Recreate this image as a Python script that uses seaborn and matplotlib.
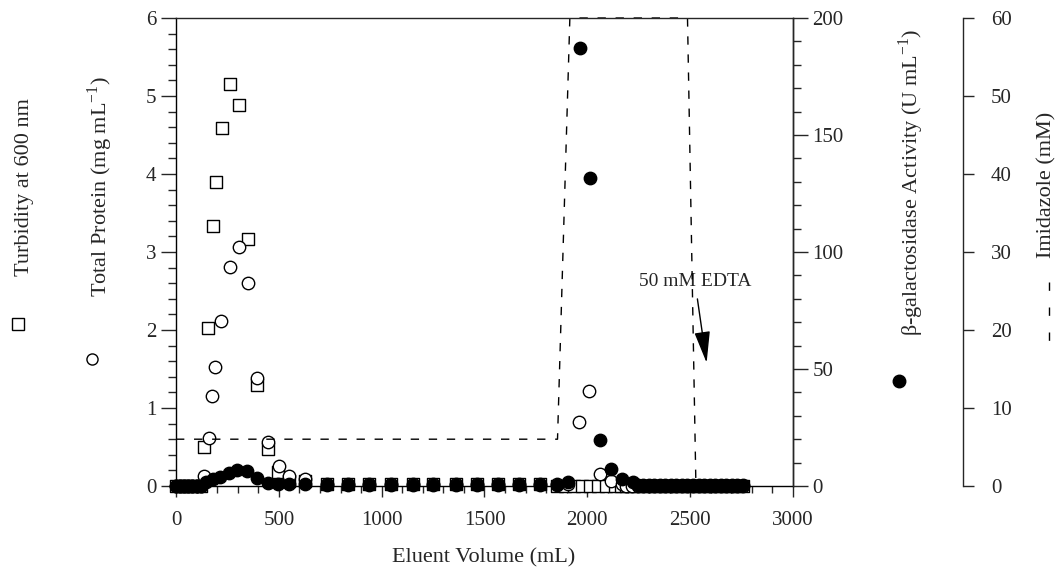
import numpy as np
import matplotlib
matplotlib.use('Agg')
import matplotlib.pyplot as plt
from matplotlib.lines import Line2D
from matplotlib.ticker import MultipleLocator
import seaborn as sns

sns.set_style('ticks')
plt.rcParams['font.family'] = ['Liberation Serif', 'DejaVu Serif']
plt.rcParams['mathtext.fontset'] = 'custom'
plt.rcParams['mathtext.rm'] = 'Liberation Serif'

## data
# turbidity (open squares, left axis)
turb_x = [0, 20, 40, 60, 80, 100, 120, 136, 157, 180, 193, 222, 262, 305, 348, 394, 446, 496, 551, 627,
          733, 836, 939, 1045, 1152, 1250, 1360, 1463, 1566, 1668, 1770,
          1853, 1893, 1933, 1973, 2013, 2053, 2093, 2133, 2163,
          2190, 2217, 2244, 2271, 2298, 2325, 2352, 2379, 2406, 2433, 2460, 2487, 2514, 2541,
          2568, 2595, 2622, 2649, 2676, 2703, 2730, 2757]
turb_y = [0, 0, 0, 0, 0, 0, 0, 0.50, 2.03, 3.33, 3.90, 4.59, 5.15, 4.88, 3.17, 1.29, 0.47, 0.18, 0.06, 0.07,
          0.02, 0.02, 0.02, 0.02, 0.02, 0.02, 0.02, 0.02, 0.02, 0.02, 0.02,
          0, 0, 0, 0, 0, 0, 0, 0, 0,
          0, 0, 0, 0, 0, 0, 0, 0, 0, 0, 0, 0, 0, 0,
          0, 0, 0, 0, 0, 0, 0, 0]

# total protein (open circles, left axis)
prot_x = [0, 20, 40, 60, 80, 100, 120, 136, 161, 177, 190, 217, 261, 305, 348, 392, 449, 501, 551, 627,
          733, 836, 939, 1045, 1152, 1250, 1360, 1463, 1566, 1668, 1770,
          1853, 1907, 1958, 2010, 2061, 2113, 2167,
          2190, 2217, 2244, 2271, 2298, 2325, 2352, 2379, 2406, 2433, 2460, 2487, 2514, 2541,
          2568, 2595, 2622, 2649, 2676, 2703, 2730, 2757]
prot_y = [0, 0, 0, 0, 0, 0, 0, 0.13, 0.61, 1.15, 1.53, 2.11, 2.81, 3.06, 2.60, 1.39, 0.57, 0.26, 0.13, 0.09,
          0.02, 0.02, 0.02, 0.02, 0.02, 0.02, 0.02, 0.02, 0.02, 0.02, 0.02,
          0.02, 0.02, 0.82, 1.22, 0.16, 0.07, 0.03,
          0, 0, 0, 0, 0, 0, 0, 0, 0, 0, 0, 0, 0, 0,
          0, 0, 0, 0, 0, 0, 0, 0]

# beta-galactosidase activity (filled circles, U/mL, right axis)
bgal_x = [0, 20, 40, 60, 80, 100, 120, 146, 178, 214, 259, 298, 344, 392, 448, 497, 551, 627,
          733, 836, 939, 1045, 1152, 1250, 1360, 1463, 1566, 1668, 1770,
          1853, 1907, 1964, 2014, 2061, 2113, 2167, 2220,
          2244, 2271, 2298, 2325, 2352, 2379, 2406, 2433, 2460, 2487, 2514, 2541,
          2568, 2595, 2622, 2649, 2676, 2703, 2730, 2757]
bgal_y = [0, 0, 0, 0, 0, 0, 0, 1.8, 3.0, 4.0, 5.4, 6.8, 6.5, 3.3, 1.2, 0.9, 0.7, 0.7,
          0.5, 0.5, 0.5, 0.5, 0.5, 0.5, 0.5, 0.5, 0.5, 0.5, 0.5,
          0.5, 1.8, 187, 131.5, 19.7, 7.1, 3.0, 1.8,
          0.5, 0.5, 0.5, 0.5, 0.5, 0.5, 0.5, 0.5, 0.5, 0.5, 0.5, 0.5,
          0.5, 0.5, 0.5, 0.5, 0.5, 0.5, 0.5, 0.5]

# imidazole step profile (mM)
imid_x = [0, 1855, 1915, 2487, 2528]
imid_y = [6, 6, 60, 60, 0]

W, H = 1056, 571
fig = plt.figure(figsize=(W / 100, H / 100), dpi=100)
ax = fig.add_axes([176 / W, 1 - 486 / H, (793 - 176) / W, (486 - 18) / H])
ax2 = ax.twinx()
ax3 = ax.twinx()

mk = dict(s=80, linewidth=1, edgecolor='black', clip_on=False, legend=False)
sns.scatterplot(x=turb_x, y=turb_y, marker='s', color='white', ax=ax, zorder=3, **mk)
sns.scatterplot(x=prot_x, y=prot_y, marker='o', color='white', ax=ax, zorder=4, **mk)
sns.scatterplot(x=bgal_x, y=bgal_y, marker='o', color='black', ax=ax2, zorder=5, **mk)
ax3.plot(imid_x, imid_y, color='black', lw=1, ls=(0, (6, 7)), clip_on=False, zorder=2)

TICK = 15
LAB = 16

# main axis
ax.set_xlim(0, 3000); ax.set_ylim(0, 6)
ax.xaxis.set_major_locator(MultipleLocator(500)); ax.xaxis.set_minor_locator(MultipleLocator(100))
ax.yaxis.set_major_locator(MultipleLocator(1)); ax.yaxis.set_minor_locator(MultipleLocator(0.2))
ax.tick_params(axis='y', which='major', direction='out', length=11, width=1, labelsize=TICK, pad=3)
ax.tick_params(axis='y', which='minor', direction='out', length=6, width=1)
ax.tick_params(axis='x', which='major', direction='out', length=8, width=1, labelsize=TICK, pad=10)
ax.tick_params(axis='x', which='minor', direction='out', length=5, width=1)
ax.tick_params(top=False, right=False, which='both')
for s in ax.spines.values():
    s.set_linewidth(1); s.set_color('black')
ax.spines['top'].set_visible(False)
ax.set_xlabel(''); ax.set_ylabel('')

# beta-gal axis
ax2.set_ylim(0, 200)
ax2.yaxis.set_major_locator(MultipleLocator(50)); ax2.yaxis.set_minor_locator(MultipleLocator(10))
ax2.tick_params(axis='y', which='major', direction='out', length=11, width=1, labelsize=TICK, pad=3)
ax2.tick_params(axis='y', which='minor', direction='out', length=6, width=1)
for s in ['top', 'bottom', 'left']:
    ax2.spines[s].set_visible(False)
ax2.spines['right'].set_linewidth(1)
ax2.set_ylabel('')

# imidazole axis (its top spine closes the box over the dashed line)
ax3.set_ylim(0, 60)
ax3.spines['right'].set_position(('axes', (963 - 176) / (793 - 176)))
for s in ['bottom', 'left']:
    ax3.spines[s].set_visible(False)
ax3.spines['top'].set_linewidth(1); ax3.spines['top'].set_zorder(3)
ax3.spines['right'].set_linewidth(1)
ax3.yaxis.set_major_locator(MultipleLocator(10))
ax3.tick_params(axis='y', which='major', direction='out', length=8, width=1, labelsize=TICK, pad=12)
ax3.tick_params(top=False, labeltop=False)
ax3.patch.set_visible(False)

ax.annotate('50 mM EDTA', xy=(2580, 1.58), xytext=(2523, 2.62), ha='center', va='center', fontsize=14,
            arrowprops=dict(arrowstyle='-|>,head_length=1.4,head_width=0.35', color='black', lw=1,
                            shrinkA=4, shrinkB=0))

# axis titles with their marker keys
fig.text(484 / W, 1 - 558 / H, 'Eluent Volume (mL)', ha='center', va='center', fontsize=LAB)
fig.text(25 / W, 1 - 187 / H, 'Turbidity at 600 nm', rotation=90, ha='center', va='center', fontsize=LAB)
fig.text(100 / W, 1 - 187 / H, r'Total Protein (mg mL$^{\mathregular{-1}}$)', rotation=90,
         ha='center', va='center', fontsize=LAB)
fig.text(911 / W, 1 - 182 / H, r'$\mathregular{\beta}$-galactosidase Activity (U mL$^{\mathregular{-1}}$)',
         rotation=90, ha='center', va='center', fontsize=LAB)
fig.text(1047 / W, 1 - 185 / H, 'Imidazole (mM)', rotation=90, ha='center', va='center', fontsize=LAB)

fig.add_artist(Line2D([18 / W], [1 - 324 / H], marker='s', ms=8, mfc='white', mec='black', mew=1,
                      transform=fig.transFigure))
fig.add_artist(Line2D([92 / W], [1 - 359 / H], marker='o', ms=8, mfc='white', mec='black', mew=1,
                      transform=fig.transFigure))
fig.add_artist(Line2D([899 / W], [1 - 381 / H], marker='o', ms=9, mfc='black', mec='black', mew=1,
                      transform=fig.transFigure))
fig.add_artist(Line2D([1049 / W] * 2, [1 - 282 / H, 1 - 343 / H], color='black', lw=1, ls=(0, (6, 12)),
                      transform=fig.transFigure))

fig.savefig('out.png', dpi=100)
